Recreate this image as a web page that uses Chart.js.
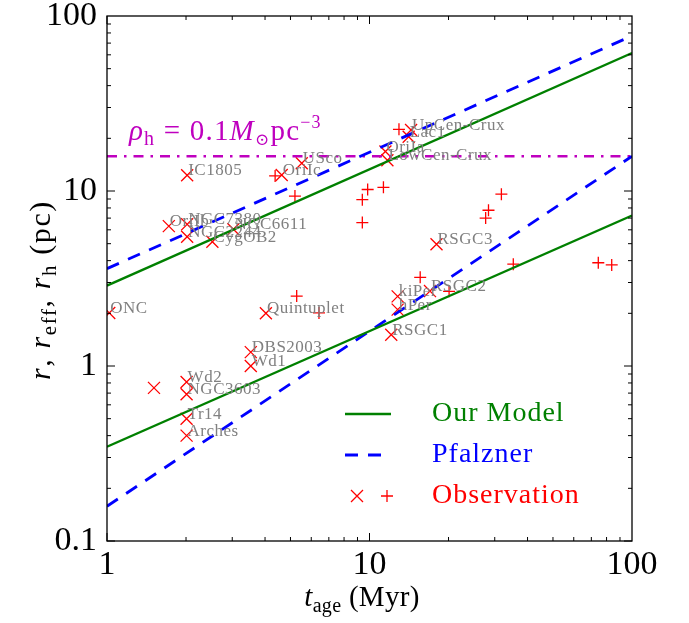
<!DOCTYPE html>
<html><head><meta charset="utf-8">
<script src="https://cdn.jsdelivr.net/npm/chart.js@4.4.1/dist/chart.umd.min.js"></script>
<style>html,body{margin:0;padding:0;background:#fff;overflow:hidden}canvas{display:block}</style>
</head><body>
<canvas id="c" width="689" height="623"></canvas>
<script>
// ---- data ----
const crossLabels = ['ONC','IC1805','OriIb','NGC7380','NGC2244','CygOB2','NGC6611','OriIc','USco','UpCen-Crux','Lac1','OriIa','LowCen-Crux','RSGC3','RSGC2','kiPer','hPer','RSGC1','Quintuplet','DBS2003','Wd1','','Wd2','NGC3603','Tr14','Arches'];
const crossAges  = [1.02,2.02,1.72,2.02,2.02,2.52,3.03,4.63,5.52,14.4,14.1,11.5,11.7,18.0,17.0,12.8,12.8,12.1,4.03,3.53,3.53,1.51,2.01,2.01,2.01,2.01];
const crossRadii = [2.01,12.3,6.3,6.45,5.48,5.13,6.04,12.35,14.4,22.3,20.4,16.8,15.0,4.96,2.68,2.50,2.10,1.51,2.0,1.20,1.0,0.75,0.81,0.69,0.50,0.40];
const plusAges  = [4.37,5.2,12.95,9.84,11.3,9.39,9.39,31.8,28.4,27.7,35.3,74.4,83.7,15.6,20.1,5.28,6.42];
const plusRadii = [12.2,9.36,22.5,10.2,10.5,8.92,6.6,9.59,7.76,7.0,3.82,3.89,3.78,3.21,2.67,2.51,2.01];
const lineAges = [1, 100];
const modelUpper = [2.88, 61.5];
const modelLower = [0.346, 7.25];
const pfalznerUpper = [3.6, 77];
const pfalznerLower = [0.158, 15.8];
const densityRadius = [15.8, 15.8];
const xTickValues = [1, 10, 100];
const xTickLabels = ['1', '10', '100'];
const yTickValues = [0.1, 1, 10, 100];
const yTickLabels = ['0.1', '1', '10', '100'];

const GREEN = 'rgb(0,128,0)', BLUE = 'rgb(0,0,255)', RED = 'rgb(255,0,0)', MAG = 'rgb(191,0,191)', GRAY = 'rgb(128,128,128)';
const SERIF = '"Liberation Serif", "DejaVu Serif", serif';

const pts = (xs, ys) => xs.map((v, i) => ({x: v, y: ys[i]}));
const lineDs = (label, ys, color, dash, w) => ({
  label, data: pts(lineAges, ys), showLine: true, borderColor: color, borderWidth: w,
  borderDash: dash, pointRadius: 0, pointHoverRadius: 0, fill: false, tension: 0
});

function drawRuns(ctx, runs, x, y, size, color, align, spacing) {
  ctx.fillStyle = color;
  ctx.textBaseline = 'alphabetic';
  ctx.textAlign = 'left';
  ctx.letterSpacing = (spacing || 0) + 'px';
  const fontOf = r => (r[1] === 'i' ? 'italic ' : '') + Math.round(size * (r[2] || 1)) + 'px ' + SERIF;
  let total = 0;
  runs.forEach(r => { ctx.font = fontOf(r); total += ctx.measureText(r[0]).width; });
  let cx = align === 'center' ? x - total / 2 : x;
  runs.forEach(r => {
    ctx.font = fontOf(r);
    ctx.fillText(r[0], cx, y + (r[3] || 0));
    cx += ctx.measureText(r[0]).width;
  });
  ctx.letterSpacing = '0px';
}

const decorations = {
  id: 'decorations',
  afterDatasetsDraw(chart) {
    const {ctx, chartArea: a, scales: {x, y}} = chart;
    ctx.save();
    // point labels
    const meta = chart.getDatasetMeta(5);
    ctx.font = '17px ' + SERIF;
    ctx.letterSpacing = '0.5px';
    ctx.fillStyle = GRAY;
    ctx.textBaseline = 'alphabetic';
    ctx.textAlign = 'left';
    meta.data.forEach((p, i) => { if (crossLabels[i]) ctx.fillText(crossLabels[i], p.x + 1, p.y); });
    ctx.letterSpacing = '0px';

    // frame
    ctx.strokeStyle = '#000';
    ctx.lineWidth = 1.3;
    ctx.strokeRect(a.left, a.top, a.right - a.left, a.bottom - a.top);
    // inward ticks
    ctx.lineWidth = 1;
    ctx.beginPath();
    for (let k = 0; k < 2; k++) for (let m = 1; m <= 9; m++) {
      const v = m * Math.pow(10, k);
      const px = x.getPixelForValue(v), len = m === 1 ? 8 : 4;
      ctx.moveTo(px, a.bottom); ctx.lineTo(px, a.bottom - len);
      ctx.moveTo(px, a.top); ctx.lineTo(px, a.top + len);
    }
    for (let k = -1; k < 2; k++) for (let m = 1; m <= 9; m++) {
      const v = m * Math.pow(10, k);
      const py = y.getPixelForValue(v), len = m === 1 ? 8 : 4;
      ctx.moveTo(a.left, py); ctx.lineTo(a.left + len, py);
      ctx.moveTo(a.right, py); ctx.lineTo(a.right - len, py);
    }
    ctx.stroke();

    // density label
    drawRuns(ctx, [['ρ','i'],['h','n',0.68,5],[' = 0.1','n'],['M','i'],['⊙','n',0.6,5],['pc','n'],['−3','n',0.62,-12]], 129, 140, 29, MAG, 'left', 1.2);

    // axis titles
    drawRuns(ctx, [['t','i'],['age','n',0.7,6],[' (Myr)','n']], 362, 606, 29, '#000', 'center', 0.3);
    ctx.save();
    ctx.translate(50, 290);
    ctx.rotate(-Math.PI / 2);
    drawRuns(ctx, [['r','i'],[', ','n'],['r','i'],['eff','n',0.7,6],[', ','n'],['r','i'],['h','n',0.7,6],[' (pc)','n']], 0, 0, 30, '#000', 'center', 1.6);
    ctx.restore();

    // legend
    ctx.lineWidth = 2.3;
    ctx.strokeStyle = GREEN;
    ctx.setLineDash([]);
    ctx.beginPath(); ctx.moveTo(345, 414); ctx.lineTo(391, 414); ctx.stroke();
    ctx.strokeStyle = BLUE; ctx.lineWidth = 2.8;
    ctx.setLineDash([13, 10]);
    ctx.beginPath(); ctx.moveTo(345, 455); ctx.lineTo(391, 455); ctx.stroke();
    ctx.setLineDash([]);
    ctx.strokeStyle = RED; ctx.lineWidth = 1.3;
    ctx.beginPath();
    ctx.moveTo(351, 490); ctx.lineTo(363, 502); ctx.moveTo(363, 490); ctx.lineTo(351, 502);
    ctx.moveTo(381, 496); ctx.lineTo(393, 496); ctx.moveTo(387, 490); ctx.lineTo(387, 502);
    ctx.stroke();
    ctx.font = '28px ' + SERIF;
    ctx.letterSpacing = '1px';
    ctx.textBaseline = 'middle';
    ctx.fillStyle = GREEN; ctx.fillText('Our Model', 432, 414);
    ctx.fillStyle = BLUE; ctx.fillText('Pfalzner', 432, 455);
    ctx.fillStyle = RED; ctx.fillText('Observation', 432, 496);
    ctx.letterSpacing = '0px';
    ctx.restore();
  }
};

const tickFont = {family: SERIF, size: 34};
new Chart(document.getElementById('c'), {
  type: 'scatter',
  data: {
    datasets: [
      lineDs('Our Model', modelUpper, GREEN, [], 2.3),
      lineDs('Our Model (lower)', modelLower, GREEN, [], 2.3),
      lineDs('Pfalzner', pfalznerUpper, BLUE, [13, 10], 2.8),
      lineDs('Pfalzner (lower)', pfalznerLower, BLUE, [13, 10], 2.8),
      lineDs('density', densityRadius, MAG, [10, 7, 2.5, 7], 2.4),
      {label: 'Observation ×', data: pts(crossAges, crossRadii), pointStyle: 'crossRot', pointRadius: 8.5,
       pointBorderWidth: 1.3, borderColor: RED, backgroundColor: RED, showLine: false},
      {label: 'Observation +', data: pts(plusAges, plusRadii), pointStyle: 'cross', pointRadius: 6,
       pointBorderWidth: 1.3, borderColor: RED, backgroundColor: RED, showLine: false}
    ]
  },
  options: {
    responsive: false, animation: false, devicePixelRatio: 1,
    layout: {padding: {left: 0, right: 57, top: 16, bottom: 0}},
    plugins: {legend: {display: false}, tooltip: {enabled: false}},
    events: [],
    scales: {
      x: {
        type: 'logarithmic', position: 'bottom', min: 1, max: 100,
        grid: {display: false, drawTicks: false}, border: {display: false},
        ticks: {font: tickFont, color: '#000', padding: 4, autoSkip: false, maxRotation: 0,
                callback: (v, i) => xTickLabels[i]},
        afterBuildTicks: s => { s.ticks = xTickValues.map(v => ({value: v})); },
        afterFit: s => { s.height = 82; s.paddingLeft = 0; s.paddingRight = 0; s.paddingTop = 0; s.paddingBottom = 0; }
      },
      y: {
        type: 'logarithmic', position: 'left', min: 0.1, max: 100,
        grid: {display: false, drawTicks: false}, border: {display: false},
        ticks: {font: tickFont, color: '#000', padding: 10, autoSkip: false,
                callback: (v, i) => yTickLabels[i]},
        afterBuildTicks: s => { s.ticks = yTickValues.map(v => ({value: v})); },
        afterFit: s => { s.width = 107; s.paddingLeft = 0; s.paddingRight = 0; s.paddingTop = 0; s.paddingBottom = 0; }
      }
    }
  },
  plugins: [decorations]
});
</script>
</body></html>
